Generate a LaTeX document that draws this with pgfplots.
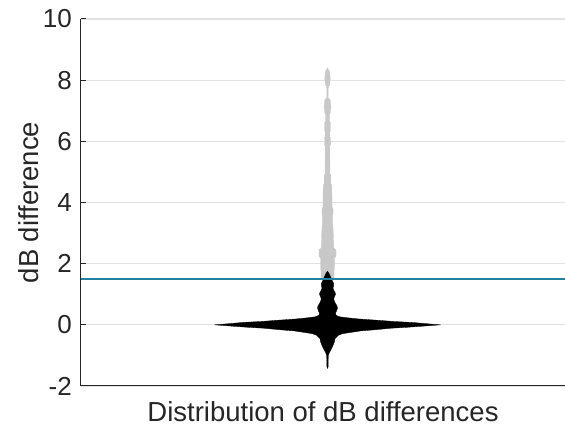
\documentclass[border=0pt]{standalone}
\usepackage{pgfplots}
\pgfplotsset{compat=1.18}
\usepgfplotslibrary{fillbetween}
\usepackage{pgfplotstable}
\usepackage{fontspec}
\setmainfont{Liberation Sans}

\definecolor{axisgray}{RGB}{38,38,38}
\definecolor{gridgray}{RGB}{226,226,226}
\definecolor{violingray}{RGB}{200,200,200}
\definecolor{threshold}{RGB}{35,128,160}

% half-width profile (w) of the distribution below/around the threshold
\pgfplotstableread{
y w
-1.42 0
-1.38 0.6
-1.00 0.8
-0.92 1.7
-0.87 2.5
-0.82 3.3
-0.74 4.6
-0.65 5.8
-0.55 7.0
-0.45 7.5
-0.40 9
-0.34 11
-0.29 15
-0.24 25
-0.20 33
-0.16 48
-0.11 64
-0.08 80
-0.04 97
0.00 113
0.04 98
0.08 84
0.11 66
0.15 50
0.19 32
0.23 20
0.26 13
0.28 10.5
0.32 8.5
0.38 8
0.45 9
0.55 10
0.62 9.5
0.70 8
0.78 6.8
0.85 6.3
0.92 7
1.00 8
1.06 7.6
1.13 6.3
1.20 5.5
1.27 6
1.33 6.3
1.40 5.5
1.48 4.2
1.54 3.5
1.64 2.2
1.70 1.2
1.75 0
}\belowdist

% half-width profile of the differences above the threshold
\pgfplotstableread{
y w
1.50 0
1.50 6.5
1.73 6.5
1.96 7
2.18 7
2.24 8.5
2.45 8.5
2.52 6.2
3.00 5.8
3.27 5.2
3.58 5.2
3.62 5.5
3.80 5.5
3.84 4.6
4.15 4.5
4.56 4.2
4.62 3.3
4.88 3.3
4.95 2.4
5.85 2.3
5.90 3
6.10 3
6.15 2.3
6.30 2.3
6.34 2.8
6.62 2.8
6.66 2.0
6.86 2.0
6.92 2.6
7.12 3.4
7.36 2.6
7.42 0.7
7.76 0.7
7.82 1.8
8.05 2.8
8.30 1.8
8.40 0
}\abovedist

\begin{document}
\begin{tikzpicture}
\begin{axis}[
  scale only axis,
  width=484pt, height=367pt,
  xmin=0, xmax=484, ymin=-2, ymax=10,
  axis lines*=left,
  axis line style={axisgray, line width=1pt},
  xtick=\empty,
  ytick={-2,0,2,4,6,8,10},
  yticklabels={-2,0,2,4,6,8,10},
  ymajorgrids,
  major grid style={gridgray, line width=1.3pt},
  tick align=inside,
  major tick length=5pt,
  every tick/.style={axisgray, line width=1pt},
  tick label style={font=\fontsize{26}{30}\selectfont, text=axisgray},
  yticklabel style={inner sep=0pt, xshift=-9pt},
  xlabel={Distribution of dB differences},
  ylabel={dB difference},
  label style={font=\fontsize{27.5}{32}\selectfont, text=axisgray},
  xlabel style={at={(axis description cs:0.5,-0.0973)}, anchor=base},
  ylabel style={at={(axis description cs:-0.108,0.5)}, anchor=center},
  clip=false,
]
  % differences above the threshold (light gray)
  \addplot[draw=none, name path=aboveR]
    table[x expr=246.5+\thisrow{w}, y=y] {\abovedist};
  \addplot[draw=none, name path=aboveL]
    table[x expr=246.5-\thisrow{w}, y=y] {\abovedist};
  \addplot[fill=violingray, draw=violingray, line width=0.3pt]
    fill between[of=aboveR and aboveL];
  % main distribution (black)
  \addplot[draw=none, name path=belowR]
    table[x expr=246.5+\thisrow{w}, y=y] {\belowdist};
  \addplot[draw=none, name path=belowL]
    table[x expr=246.5-\thisrow{w}, y=y] {\belowdist};
  \addplot[fill=black, draw=black, line width=0.3pt]
    fill between[of=belowR and belowL];
  % 1.5 dB threshold
  \addplot[threshold, line width=1.5pt] coordinates {(0,1.5) (484,1.5)};
\end{axis}
\pgfresetboundingbox
\path ([xshift=-81pt, yshift=-42pt]current axis.south west)
  rectangle ([yshift=19pt]current axis.north east);
\end{tikzpicture}
\end{document}
